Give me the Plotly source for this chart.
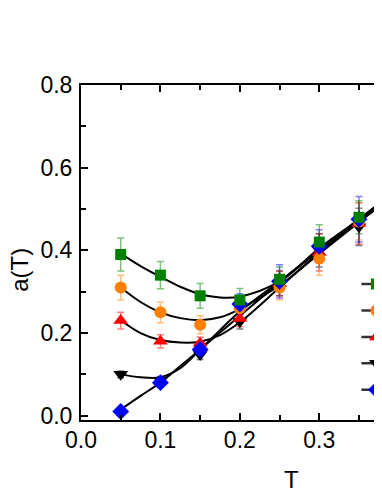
"""a(T) versus T: measured points with error bars and black fit curves."""

import plotly.graph_objects as go

FONT = "Liberation Sans, Arial, sans-serif"

# measured points
T = [0.05, 0.10, 0.15, 0.20, 0.25, 0.30, 0.35]
A_GREEN = [0.39, 0.34, 0.29, 0.28, 0.33, 0.42, 0.48]
A_ORANGE = [0.31, 0.25, 0.22, 0.26, 0.31, 0.38, 0.47]
A_RED = [0.23, 0.18, 0.175, 0.235, 0.32, 0.395, 0.465]
A_BLACK = [0.10, 0.085, 0.148, 0.228, 0.32, 0.40, 0.457]
A_BLUE = [0.01, 0.08, 0.16, 0.27, 0.325, 0.41, 0.475]

ERR_GREEN = [0.04, 0.033, 0.03, 0.028, 0.03, 0.042, 0.04]
ERR_ORANGE = [0.03, 0.025, 0.022, 0.025, 0.03, 0.04, 0.045]
ERR_RED = [0.02, 0.016, 0.015, 0.02, 0.03, 0.045, 0.05]
ERR_BLACK = [0.008, 0.01, 0.012, 0.018, 0.03, 0.04, 0.045]
ERR_BLUE = [0.005, 0.006, 0.01, 0.025, 0.04, 0.04, 0.055]

# fit curves
FIT_T = [0.05, 0.075, 0.10, 0.125, 0.15, 0.175, 0.20, 0.25, 0.30, 0.35, 0.40]
FIT_GREEN = [0.392, 0.362, 0.336, 0.312, 0.294, 0.286, 0.288, 0.325, 0.405, 0.475, 0.55]
FIT_ORANGE = [0.31, 0.275, 0.25, 0.236, 0.231, 0.238, 0.258, 0.315, 0.392, 0.468, 0.545]
FIT_RED = [0.231, 0.200, 0.183, 0.177, 0.179, 0.195, 0.226, 0.31, 0.395, 0.47, 0.545]
FIT_BLACK = [0.10, 0.093, 0.093, 0.115, 0.16, 0.207, 0.252, 0.325, 0.40, 0.47, 0.54]
FIT_BLUE = [0.015, 0.048, 0.08, 0.12, 0.16, 0.201, 0.242, 0.322, 0.40, 0.475, 0.55]

# (values, errors, fit, marker colour, error colour, symbol, size, legend rank)
SERIES = {
    "black": (A_BLACK, ERR_BLACK, FIT_BLACK, "#000000", "rgba(0,0,0,0.5)", "triangle-down", 13, 4),
    "red": (A_RED, ERR_RED, FIT_RED, "#ff0000", "rgba(255,0,0,0.5)", "triangle-up", 13, 3),
    "orange": (A_ORANGE, ERR_ORANGE, FIT_ORANGE, "#ff8000", "rgba(255,128,0,0.5)", "circle", 12, 2),
    "blue": (A_BLUE, ERR_BLUE, FIT_BLUE, "#0000ff", "rgba(0,0,255,0.5)", "diamond", 13, 5),
    "green": (A_GREEN, ERR_GREEN, FIT_GREEN, "#008000", "rgba(0,128,0,0.5)", "square", 11, 1),
}


def gapped(vals):
    """Put a None after every value so no line joins the points."""
    out = []
    for v in vals:
        out += [v, None]
    return out


fig = go.Figure()

# fit curves underneath
for key, (vals, errs, fit, *_rest) in SERIES.items():
    fig.add_trace(
        go.Scatter(
            x=FIT_T, y=fit, mode="lines", line=dict(color="black", width=2, shape="spline"),
            showlegend=False, hoverinfo="skip",
        )
    )

# error bars on their own so they stay out of the legend
for key, (vals, errs, fit, color, ecolor, *_rest) in SERIES.items():
    fig.add_trace(
        go.Scatter(
            x=T, y=vals, mode="markers", marker=dict(size=1, opacity=0),
            error_y=dict(type="data", array=errs, color=ecolor, thickness=1.5, width=3.5),
            showlegend=False, hoverinfo="skip",
        )
    )

# markers (gapped line so the legend shows a line + symbol)
for key, (vals, errs, fit, color, ecolor, symbol, size, rank) in SERIES.items():
    fig.add_trace(
        go.Scatter(
            x=gapped(T),
            y=gapped(vals),
            mode="lines+markers",
            name=" ",
            legendrank=rank,
            connectgaps=False,
            line=dict(color="#333333", width=2.5),
            marker=dict(color=color, symbol=symbol, size=size, line=dict(width=0)),
        )
    )

axis_common = dict(
    showline=True, linecolor="black", linewidth=2, showgrid=False, zeroline=False,
    ticks="inside", ticklen=7, tickwidth=1.5, tickcolor="black", tickformat=".1f",
    tickfont=dict(family=FONT, size=23, color="black"),
)

fig.update_xaxes(
    range=[0, 0.379], tick0=0, dtick=0.1, mirror="ticks", ticklabelstandoff=-2,
    minor=dict(dtick=0.05, ticks="inside", ticklen=5, tickwidth=1.5, tickcolor="black"),
    **axis_common,
)
fig.update_yaxes(
    range=[-0.0104, 0.8], tick0=0, dtick=0.2, mirror=False, ticklabelstandoff=2,
    minor=dict(dtick=0.1, ticks="inside", ticklen=5, tickwidth=1.5, tickcolor="black"),
    **axis_common,
)

fig.add_annotation(
    text="T", x=0.698, y=-0.179, xref="paper", yref="paper", showarrow=False,
    xanchor="center", yanchor="middle",
    font=dict(family=FONT, size=24, color="black"),
)
fig.add_annotation(
    text="a(T)", x=-0.203, y=0.448, xref="paper", yref="paper", showarrow=False,
    xanchor="center", yanchor="middle",
    textangle=-90, font=dict(family=FONT, size=24, color="black"),
)

# the page body has an 8px margin, so the figure is sized to end at the window edge
fig.update_layout(
    width=374,
    height=486,
    margin=dict(l=73, r=0, t=77, b=74, autoexpand=False),
    paper_bgcolor="white",
    plot_bgcolor="white",
    legend=dict(
        x=0.915, y=0.46, xanchor="left", yanchor="top",
        font=dict(family=FONT, size=18), bgcolor="rgba(0,0,0,0)",
    ),
)

fig.write_html("out.html")
